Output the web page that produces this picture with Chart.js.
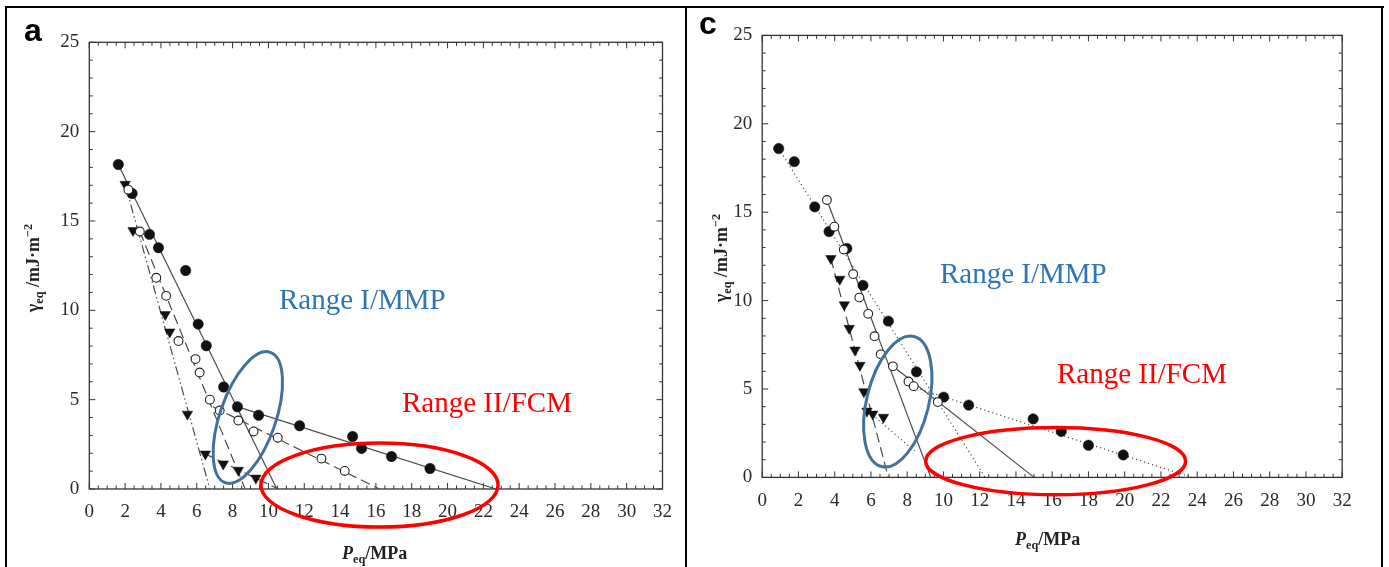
<!DOCTYPE html>
<html>
<head>
<meta charset="utf-8">
<script src="https://cdn.jsdelivr.net/npm/chart.js@4.4.0/dist/chart.umd.min.js"></script>
<style>
html, body { margin: 0; padding: 0; background: #fff; }
#page { position: relative; width: 1389px; height: 567px; overflow: hidden; }
#page canvas { position: absolute; top: 0; }
.rule { position: absolute; background: #000; z-index: 3; }
.txt { position: absolute; white-space: nowrap; line-height: 1; z-index: 2; }
.panel { font-family: "Liberation Sans", Arial, sans-serif; font-weight: bold; font-size: 32px; color: #000; }
.range { font-family: "Liberation Serif", "Times New Roman", serif; font-size: 29px; }
.blue { color: #2E75B6; }
.red { color: #FF0000; }
.ax { font-family: "Liberation Serif", "Times New Roman", serif; font-weight: bold; font-size: 18px; color: #222; }
.ax sub { font-size: 0.68em; vertical-align: -0.3em; line-height: 0; }
.ax sup { font-size: 0.68em; vertical-align: 0.55em; line-height: 0; }
.rot { transform: translate(-50%, -50%) rotate(-90deg); }
</style>
</head>
<body>
<div id="page">
  <canvas id="chartA" width="686" height="567" style="left:0px"></canvas>
  <canvas id="chartC" width="703" height="567" style="left:686px"></canvas>

  <div class="rule" style="left:5px; top:6px; width:1379px; height:2px;"></div>
  <div class="rule" style="left:5px; top:6px; width:2px; height:561px;"></div>
  <div class="rule" style="left:685px; top:6px; width:2px; height:561px;"></div>
  <div class="rule" style="left:1381px; top:6px; width:2px; height:561px;"></div>

  <div class="txt panel" style="left:24px; top:14px;">a</div>
  <div class="txt panel" style="left:699px; top:7px;">c</div>

  <div class="txt range blue" style="left:279px; top:285px;">Range I/MMP</div>
  <div class="txt range red" style="left:402px; top:388px;">Range II/FCM</div>
  <div class="txt range blue" style="left:940px; top:259px;">Range I/MMP</div>
  <div class="txt range red" style="left:1057px; top:359px;">Range II/FCM</div>

  <div class="txt ax" style="left:342px; top:544px;"><i>P</i><sub>eq</sub>/MPa</div>
  <div class="txt ax" style="left:1015px; top:530px;"><i>P</i><sub>eq</sub>/MPa</div>
  <div class="txt ax rot" style="left:33px; top:268px;">γ<sub>eq</sub> /mJ·m<sup>−2</sup></div>
  <div class="txt ax rot" style="left:721px; top:258px;">γ<sub>eq</sub> /mJ·m<sup>−2</sup></div>
</div>

<script>
// ---------------- data : panel a ----------------
const xTickValues = [0, 2, 4, 6, 8, 10, 12, 14, 16, 18, 20, 22, 24, 26, 28, 30, 32];
const yTickValues = [0, 5, 10, 15, 20, 25];

const aFilledP = [1.62, 2.39, 3.36, 3.86, 5.38, 6.08, 6.53, 7.50, 8.27, 9.45, 11.74, 14.70, 15.20, 16.87, 19.02];
const aFilledG = [18.16, 16.54, 14.25, 13.50, 12.23, 9.23, 8.02, 5.71, 4.60, 4.13, 3.54, 2.94, 2.27, 1.82, 1.15];
const aOpenP = [2.18, 2.82, 3.74, 4.29, 4.98, 5.93, 6.16, 6.73, 7.28, 8.32, 9.17, 10.52, 12.96, 14.26];
const aOpenG = [16.75, 14.41, 11.82, 10.81, 8.28, 7.27, 6.52, 5.00, 4.39, 3.83, 3.22, 2.87, 1.70, 1.01];
const aTriP = [2.00, 2.44, 4.24, 4.49, 5.48, 6.48, 7.48, 8.32, 9.30];
const aTriG = [17.05, 14.47, 9.76, 8.79, 4.19, 1.96, 1.40, 1.05, 0.61];

// fitted lines (end points)
const aFitFilledSteepP = [1.62, 10.47], aFitFilledSteepG = [18.16, 0];
const aFitFilledFlatP = [8.3, 22.7], aFitFilledFlatG = [4.6, 0];
const aFitOpenSteepP = [2.82, 8.7], aFitOpenSteepG = [14.41, 0];
const aFitOpenFlatP = [6.9, 16.2], aFitOpenFlatG = [4.6, 0];
const aFitTriSteepP = [2.0, 6.73], aFitTriSteepG = [17.05, 0];
const aFitTriFlatP = [6.4, 10.55], aFitTriFlatG = [2.0, 0];

// ---------------- data : panel c ----------------
const cFilledP = [0.91, 1.77, 2.90, 3.69, 4.67, 5.56, 6.96, 8.51, 10.01, 11.39, 14.95, 16.50, 18.00, 19.92];
const cFilledG = [18.60, 17.86, 15.30, 13.91, 12.95, 10.86, 8.84, 5.97, 4.54, 4.09, 3.31, 2.60, 1.82, 1.27];
const cOpenP = [3.57, 3.98, 4.50, 5.02, 5.36, 5.85, 6.20, 6.54, 7.21, 8.07, 8.36, 9.69];
const cOpenG = [15.69, 14.18, 12.89, 11.50, 10.17, 9.25, 7.98, 6.96, 6.28, 5.42, 5.16, 4.26];
const cTriP = [3.79, 4.28, 4.53, 4.80, 5.12, 5.39, 5.61, 5.78, 6.10, 6.69];
const cTriG = [12.38, 11.21, 9.76, 8.43, 7.20, 6.34, 4.85, 3.75, 3.58, 3.40];

const cFitFilledSteepP = [0.91, 12.3], cFitFilledSteepG = [18.6, 0];
const cFitFilledFlatP = [8.5, 23.7], cFitFilledFlatG = [5.06, 0];
const cFitOpenSteepP = [3.57, 9.3], cFitOpenSteepG = [15.69, 0];
const cFitOpenFlatP = [7.2, 15.0], cFitOpenFlatG = [6.3, 0];
const cFitTriSteepP = [3.79, 6.96], cFitTriSteepG = [12.38, 0];
const cFitTriFlatP = [5.9, 8.4], cFitTriFlatG = [3.7, 1.5];

// ---------------- helpers ----------------
const pts = (xs, ys) => xs.map((x, i) => ({ x: x, y: ys[i] }));
const INK = '#111';
const LINE = '#4a4a4a';

function markers(xs, ys, kind) {
    const ds = { type: 'scatter', data: pts(xs, ys), showLine: false, order: 0 };
    if (kind === 'filled') {
        Object.assign(ds, { pointStyle: 'circle', pointRadius: 5.2, backgroundColor: INK, borderColor: INK, borderWidth: 0.5 });
    } else if (kind === 'open') {
        Object.assign(ds, { pointStyle: 'circle', pointRadius: 4.4, backgroundColor: '#fff', borderColor: '#222', borderWidth: 1.1 });
    } else {
        Object.assign(ds, { pointStyle: 'triangle', rotation: 180, pointRadius: 6, backgroundColor: INK, borderColor: INK, borderWidth: 0.5 });
    }
    ds.pointHoverRadius = ds.pointRadius;
    return ds;
}

function fit(xs, ys, dash) {
    return { type: 'line', data: pts(xs, ys), showLine: true, pointRadius: 0, borderColor: LINE,
             borderWidth: 1.2, borderDash: dash, fill: false, order: 1 };
}

const DASH = [10, 5];
const DASHDOT = [9, 3, 1.5, 3, 1.5, 3];
const DOT = [1.2, 3];

// frame with inward ticks on all four sides
const frameTicks = {
    id: 'frameTicks',
    beforeDatasetsDraw(chart, args, o) {
        const { ctx, chartArea: ca, scales: { x, y } } = chart;
        ctx.save();
        ctx.strokeStyle = '#333';
        ctx.lineWidth = 1.3;
        ctx.strokeRect(ca.left, ca.top, ca.right - ca.left, ca.bottom - ca.top);
        ctx.lineWidth = 1;
        ctx.beginPath();
        for (let v = x.min; v <= x.max + 1e-9; v += o.xMinor) {
            const px = x.getPixelForValue(v);
            const major = Math.abs(v / o.xMajor - Math.round(v / o.xMajor)) < 1e-6;
            const len = major ? 6 : 3.5;
            ctx.moveTo(px, ca.bottom); ctx.lineTo(px, ca.bottom - len);
            ctx.moveTo(px, ca.top); ctx.lineTo(px, ca.top + len);
        }
        for (let v = y.min; v <= y.max + 1e-9; v += o.yMinor) {
            const py = y.getPixelForValue(v);
            const major = Math.abs(v / o.yMajor - Math.round(v / o.yMajor)) < 1e-6;
            const len = major ? 6 : 3.5;
            ctx.moveTo(ca.left, py); ctx.lineTo(ca.left + len, py);
            ctx.moveTo(ca.right, py); ctx.lineTo(ca.right - len, py);
        }
        ctx.stroke();
        ctx.restore();
    }
};

// highlighted ranges (ellipses placed in data units)
const rangeEllipses = {
    id: 'rangeEllipses',
    afterDraw(chart, args, o) {
        const { ctx, scales: { x, y } } = chart;
        const ux = Math.abs(x.getPixelForValue(1) - x.getPixelForValue(0));
        const uy = Math.abs(y.getPixelForValue(1) - y.getPixelForValue(0));
        ctx.save();
        (o.items || []).forEach(e => {
            ctx.beginPath();
            ctx.ellipse(x.getPixelForValue(e.cx), y.getPixelForValue(e.cy), e.rx * ux, e.ry * uy,
                        e.rot * Math.PI / 180, 0, Math.PI * 2);
            ctx.strokeStyle = e.color;
            ctx.lineWidth = e.width;
            ctx.stroke();
        });
        ctx.restore();
    }
};

function makeChart(id, datasets, g, ellipses) {
    const tickFont = { family: '"Liberation Serif", "Times New Roman", serif', size: 19 };
    return new Chart(document.getElementById(id).getContext('2d'), {
        type: 'scatter',
        data: { datasets: datasets },
        options: {
            responsive: false,
            animation: false,
            events: [],
            layout: { padding: { top: g.top, right: g.right, left: 0, bottom: 0 } },
            plugins: {
                legend: { display: false },
                tooltip: { enabled: false },
                frameTicks: { xMajor: 2, xMinor: 0.5, yMajor: 5, yMinor: 1 },
                rangeEllipses: { items: ellipses }
            },
            scales: {
                x: {
                    type: 'linear', min: 0, max: 32,
                    afterBuildTicks: s => { s.ticks = xTickValues.map(v => ({ value: v })); },
                    afterFit: s => { s.height = g.xh; },
                    grid: { display: false, drawTicks: false },
                    border: { display: false },
                    ticks: { autoSkip: false, maxRotation: 0, padding: 12, color: '#2a2a2a', font: tickFont }
                },
                y: {
                    type: 'linear', min: 0, max: 25,
                    afterBuildTicks: s => { s.ticks = yTickValues.map(v => ({ value: v })); },
                    afterFit: s => { s.width = g.yw; },
                    grid: { display: false, drawTicks: false },
                    border: { display: false },
                    ticks: { padding: 10, color: '#2a2a2a', font: tickFont }
                }
            }
        },
        plugins: [frameTicks, rangeEllipses]
    });
}

// ---------------- panel a ----------------
makeChart('chartA', [
    fit(aFitFilledSteepP, aFitFilledSteepG, []),
    fit(aFitFilledFlatP, aFitFilledFlatG, []),
    fit(aFitOpenSteepP, aFitOpenSteepG, DASH),
    fit(aFitOpenFlatP, aFitOpenFlatG, DASH),
    fit(aFitTriSteepP, aFitTriSteepG, DASHDOT),
    fit(aFitTriFlatP, aFitTriFlatG, DASH),
    markers(aOpenP, aOpenG, 'open'),
    markers(aTriP, aTriG, 'tri'),
    markers(aFilledP, aFilledG, 'filled')
], { top: 42.3, right: 23.5, yw: 89.3, xh: 78 }, [
    { cx: 8.85, cy: 4.0, rx: 1.56, ry: 3.86, rot: 19, color: '#41719C', width: 3 },
    { cx: 16.2, cy: 0.22, rx: 6.62, ry: 2.35, rot: 0, color: '#FF0000', width: 3.5 }
]);

// ---------------- panel c ----------------
makeChart('chartC', [
    fit(cFitFilledSteepP, cFitFilledSteepG, DOT),
    fit(cFitFilledFlatP, cFitFilledFlatG, DOT),
    fit(cFitOpenSteepP, cFitOpenSteepG, []),
    fit(cFitOpenFlatP, cFitOpenFlatG, []),
    fit(cFitTriSteepP, cFitTriSteepG, DASH),
    fit(cFitTriFlatP, cFitTriFlatG, DOT),
    markers(cOpenP, cOpenG, 'open'),
    markers(cTriP, cTriG, 'tri'),
    markers(cFilledP, cFilledG, 'filled')
], { top: 35.4, right: 46.8, yw: 76.2, xh: 89.6 }, [
    { cx: 7.48, cy: 4.29, rx: 1.71, ry: 3.79, rot: 14, color: '#41719C', width: 3 },
    { cx: 16.19, cy: 0.92, rx: 7.17, ry: 1.9, rot: 0, color: '#FF0000', width: 3.5 }
]);
</script>
</body>
</html>
